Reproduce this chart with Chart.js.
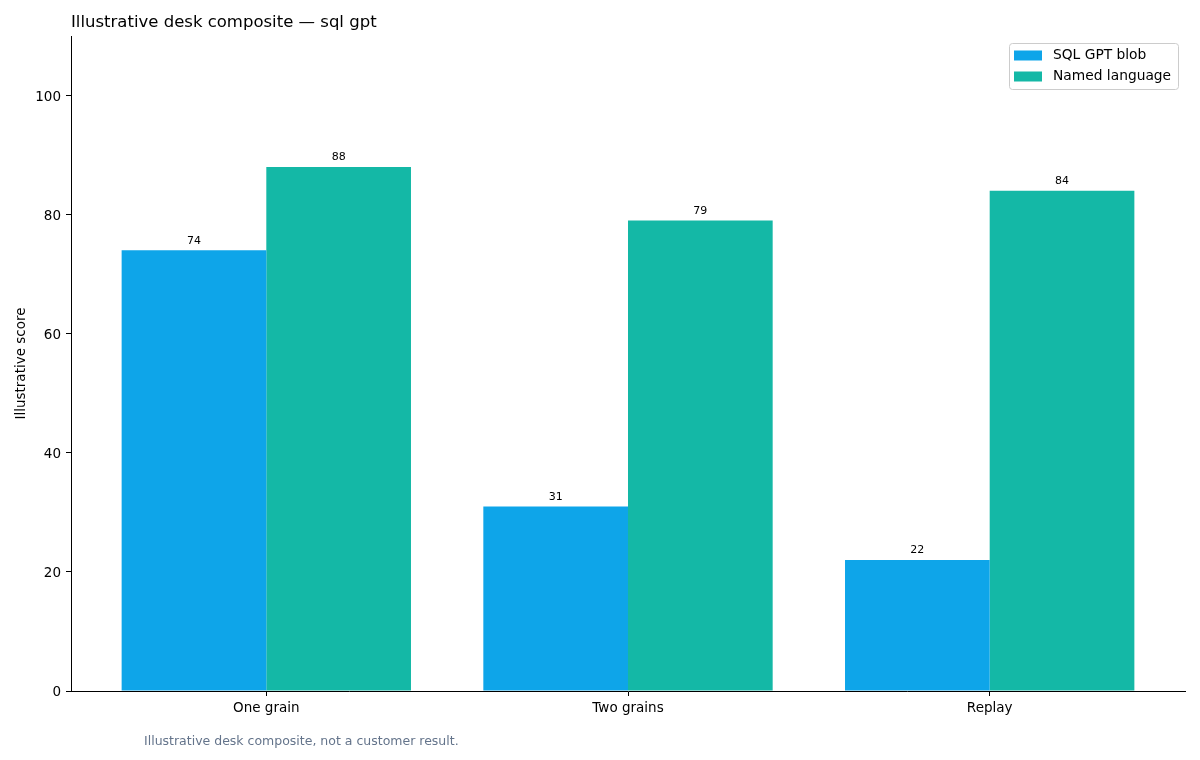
<!DOCTYPE html>
<html>
<head>
<meta charset="utf-8">
<script src="https://cdn.jsdelivr.net/npm/chart.js@4/dist/chart.umd.min.js"></script>
<style>
  body { margin: 0; background: #fff; }
  canvas { display: block; }
</style>
</head>
<body>
<canvas id="deskChart" width="1200" height="760"></canvas>
<script>
const categories = ['One grain', 'Two grains', 'Replay'];
const seriesNames = ['SQL GPT blob', 'Named language'];
const blobScores = [74, 31, 22];
const namedScores = [88, 79, 84];
const yTicks = [0, 20, 40, 60, 80, 100];
const chartTitle = 'Illustrative desk composite \u2014 sql gpt';
const footNote = 'Illustrative desk composite, not a customer result.';

const FONT = '"DejaVu Sans", sans-serif';
const colors = ['#0ea5e9', '#14b8a6'];

function toPoints(values) {
    return values.map((v, i) => ({ x: i, y: v }));
}

const decorPlugin = {
    id: 'decor',
    afterDatasetsDraw(chart) {
        const ctx = chart.ctx;
        const area = chart.chartArea;
        ctx.save();

        // value labels above bars
        ctx.font = '11px ' + FONT;
        ctx.fillStyle = '#000';
        ctx.textAlign = 'center';
        ctx.textBaseline = 'bottom';
        chart.data.datasets.forEach((ds, di) => {
            chart.getDatasetMeta(di).data.forEach((bar, i) => {
                ctx.fillText(String(ds.data[i].y), bar.x, bar.y - 4);
            });
        });

        // title
        ctx.font = '16.5px ' + FONT;
        ctx.textAlign = 'left';
        ctx.textBaseline = 'middle';
        ctx.fillText(chartTitle, area.left, 23);

        // y axis title
        ctx.save();
        ctx.font = '13.5px ' + FONT;
        ctx.textAlign = 'center';
        ctx.translate(21, (area.top + area.bottom) / 2);
        ctx.rotate(-Math.PI / 2);
        ctx.fillText('Illustrative score', 0, 0);
        ctx.restore();

        // footnote
        ctx.font = '12.5px ' + FONT;
        ctx.fillStyle = '#64748b';
        ctx.textAlign = 'left';
        ctx.fillText(footNote, 144, 742);

        // legend box
        const bx = 1009, by = 43, bw = 169, bh = 46;
        ctx.beginPath();
        ctx.roundRect(bx + 0.5, by + 0.5, bw, bh, 3);
        ctx.fillStyle = 'rgba(255,255,255,0.8)';
        ctx.fill();
        ctx.strokeStyle = '#cccccc';
        ctx.lineWidth = 1;
        ctx.stroke();
        ctx.font = '13.8px ' + FONT;
        ctx.textAlign = 'left';
        chart.data.datasets.forEach((ds, di) => {
            const cy = 55.5 + di * 21;
            ctx.fillStyle = ds.backgroundColor;
            ctx.fillRect(1014, cy - 5, 28, 10);
            ctx.fillStyle = '#000';
            ctx.fillText(ds.label, 1053, cy);
        });

        ctx.restore();
    }
};

document.addEventListener('DOMContentLoaded', function () {
    const ctx = document.getElementById('deskChart').getContext('2d');
    new Chart(ctx, {
        type: 'bar',
        data: {
            datasets: [
                {
                    label: seriesNames[0],
                    data: toPoints(blobScores),
                    backgroundColor: colors[0],
                    borderWidth: 0
                },
                {
                    label: seriesNames[1],
                    data: toPoints(namedScores),
                    backgroundColor: colors[1],
                    borderWidth: 0
                }
            ]
        },
        options: {
            responsive: false,
            animation: false,
            devicePixelRatio: 1,
            layout: { padding: { left: 0, right: 15, top: 36, bottom: 0 } },
            datasets: {
                bar: { categoryPercentage: 0.8, barPercentage: 1.0 }
            },
            plugins: {
                legend: { display: false },
                tooltip: { enabled: false }
            },
            scales: {
                x: {
                    type: 'linear',
                    min: -0.54,
                    max: 2.54,
                    offset: false,
                    afterBuildTicks(scale) {
                        scale.ticks = categories.map((c, i) => ({ value: i }));
                    },
                    afterFit(scale) { scale.height = 69; },
                    grid: {
                        offset: false,
                        drawOnChartArea: false,
                        drawTicks: true,
                        tickLength: 5,
                        color: '#000'
                    },
                    border: { display: true, color: '#000', width: 1 },
                    ticks: {
                        color: '#000',
                        padding: 4,
                        maxRotation: 0,
                        autoSkip: false,
                        font: { family: FONT, size: 13.5 },
                        callback: (v) => categories[v]
                    }
                },
                y: {
                    min: 0,
                    max: 110,
                    afterBuildTicks(scale) {
                        scale.ticks = yTicks.map(v => ({ value: v }));
                    },
                    afterFit(scale) { scale.width = 71; },
                    grid: {
                        drawOnChartArea: false,
                        drawTicks: true,
                        tickLength: 5,
                        color: '#000'
                    },
                    border: { display: true, color: '#000', width: 1 },
                    ticks: {
                        color: '#000',
                        padding: 5,
                        labelOffset: 1.5,
                        font: { family: FONT, size: 13.5 }
                    }
                }
            }
        },
        plugins: [decorPlugin]
    });
});
</script>
</body>
</html>
